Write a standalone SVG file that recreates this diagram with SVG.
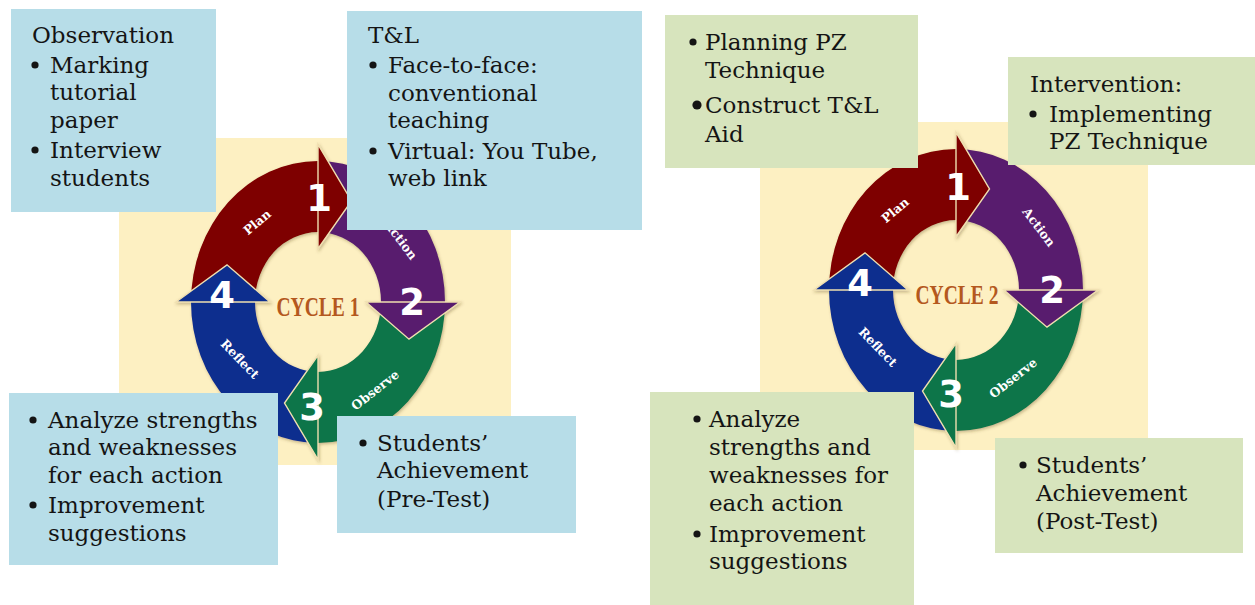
<svg xmlns="http://www.w3.org/2000/svg" width="1255" height="605" viewBox="0 0 1255 605">
  <style>
    .note { font-family: "DejaVu Serif", "Liberation Serif", serif; font-size: 23px; fill: #141414; }
    .dot { fill: #141414; }
    .blue { fill: #b7dde8; }
    .green { fill: #d7e4bd; }
    .cream { fill: #fdf0c2; }
    .step { font-family: "DejaVu Sans", "Liberation Sans", sans-serif; font-weight: bold; font-size: 37px; fill: #ffffff; text-anchor: middle; }
    .tag { font-family: "DejaVu Serif", serif; font-weight: bold; font-size: 12.5px; fill: #ffffff; text-anchor: middle; dominant-baseline: central; }
    .title { font-family: "Liberation Serif", serif; font-weight: bold; font-size: 28px; fill: #b4581e; text-anchor: middle; }
    .head { stroke: #f0dfb0; stroke-width: 1.4; stroke-linejoin: miter; }
  </style>
  <defs>
    <filter id="soft" x="-20%" y="-20%" width="140%" height="140%">
      <feDropShadow dx="1" dy="1.5" stdDeviation="1.5" flood-color="#5a4020" flood-opacity="0.35"/>
    </filter>
    <!-- one four-step ring, drawn around (0,0) -->
    <g id="ring">
      <path fill="#7e0000" d="M -127,0 A 127 127 0 0 1 0,-127 L 0,-63 A 63 63 0 0 0 -63,0 Z"/>
      <path fill="#581b6e" d="M 0,-127 A 127 127 0 0 1 127,0 L 63,0 A 63 63 0 0 0 0,-63 Z"/>
      <path fill="#0a7548" d="M 127,0 A 127 127 0 0 1 0,127 L 0,63 A 63 63 0 0 0 63,0 Z"/>
      <path fill="#0a2f8e" d="M 0,127 A 127 127 0 0 1 -127,0 L -63,0 A 63 63 0 0 0 0,63 Z"/>
      <path class="head" fill="#7e0000" vector-effect="non-scaling-stroke" d="M 0,-48 L 0,-142 L 33.5,-91 Z"/>
      <path class="head" fill="#581b6e" vector-effect="non-scaling-stroke" d="M 48,0 L 142,0 L 91,33.5 Z"/>
      <path class="head" fill="#0a7548" vector-effect="non-scaling-stroke" d="M 0,48 L 0,142 L -33.5,91 Z"/>
      <path class="head" fill="#0a2f8e" vector-effect="non-scaling-stroke" d="M -48,0 L -142,0 L -91,-33.5 Z"/>
    </g>
  </defs>

  <!-- backdrops -->
  <rect class="cream" x="119" y="138" width="392" height="327"/>
  <rect class="cream" x="760" y="122" width="388" height="328"/>

  <!-- cycle 1 -->
  <g id="cycle1">
    <g filter="url(#soft)">
      <use href="#ring" transform="translate(318,302) scale(1,1.11)"/>
    </g>
    <text class="tag" transform="translate(257,222) rotate(-40)">Plan</text>
    <text class="tag" transform="translate(401,240) rotate(53)">Action</text>
    <text class="tag" transform="translate(375,390) rotate(-38)">Observe</text>
    <text class="tag" transform="translate(240,359) rotate(46)">Reflect</text>
    <text class="step" x="319" y="211">1</text>
    <text class="step" x="412" y="315">2</text>
    <text class="step" x="312" y="420">3</text>
    <text class="step" x="222" y="308">4</text>
    <text class="title" x="318" y="316" textLength="83" lengthAdjust="spacingAndGlyphs">CYCLE 1</text>
  </g>

  <!-- cycle 2 -->
  <g id="cycle2">
    <g filter="url(#soft)">
      <use href="#ring" transform="translate(956,290) scale(1,1.11)"/>
    </g>
    <text class="tag" transform="translate(895,210) rotate(-40)">Plan</text>
    <text class="tag" transform="translate(1039,227) rotate(53)">Action</text>
    <text class="tag" transform="translate(1013,378) rotate(-38)">Observe</text>
    <text class="tag" transform="translate(878,347) rotate(46)">Reflect</text>
    <text class="step" x="958" y="200">1</text>
    <text class="step" x="1052" y="303">2</text>
    <text class="step" x="951" y="407">3</text>
    <text class="step" x="860" y="296">4</text>
    <text class="title" x="957" y="304" textLength="83" lengthAdjust="spacingAndGlyphs">CYCLE 2</text>
  </g>

  <!-- cycle 1 notes -->
  <g id="observation">
    <rect class="blue" x="11" y="9" width="205" height="203"/>
    <text class="note" x="32" y="43">Observation</text>
    <circle class="dot" cx="35" cy="65" r="3.6"/>
    <text class="note" x="50" y="73">Marking</text>
    <text class="note" x="50" y="100">tutorial</text>
    <text class="note" x="50" y="128">paper</text>
    <circle class="dot" cx="35" cy="150" r="3.6"/>
    <text class="note" x="50" y="158">Interview</text>
    <text class="note" x="50" y="186">students</text>
  </g>
  <g id="teaching">
    <rect class="blue" x="347" y="11" width="295" height="219"/>
    <text class="note" x="368" y="43">T&amp;L</text>
    <circle class="dot" cx="373" cy="65" r="3.6"/>
    <text class="note" x="388" y="73">Face-to-face:</text>
    <text class="note" x="388" y="101">conventional</text>
    <text class="note" x="388" y="128">teaching</text>
    <circle class="dot" cx="373" cy="151" r="3.6"/>
    <text class="note" x="388" y="159">Virtual: You Tube,</text>
    <text class="note" x="388" y="186">web link</text>
  </g>
  <g id="reflect1">
    <rect class="blue" x="9" y="393" width="269" height="172"/>
    <circle class="dot" cx="33" cy="420" r="3.6"/>
    <text class="note" x="48" y="428">Analyze strengths</text>
    <text class="note" x="48" y="455">and weaknesses</text>
    <text class="note" x="48" y="483">for each action</text>
    <circle class="dot" cx="33" cy="505" r="3.6"/>
    <text class="note" x="48" y="513">Improvement</text>
    <text class="note" x="48" y="541">suggestions</text>
  </g>
  <g id="pretest">
    <rect class="blue" x="337" y="416" width="239" height="117"/>
    <circle class="dot" cx="363" cy="443" r="3.6"/>
    <text class="note" x="377" y="451">Students’</text>
    <text class="note" x="377" y="478">Achievement</text>
    <text class="note" x="377" y="507">(Pre-Test)</text>
  </g>

  <!-- cycle 2 notes -->
  <g id="planning">
    <rect class="green" x="665" y="15" width="253" height="153"/>
    <circle class="dot" cx="693" cy="42" r="3.6"/>
    <text class="note" x="705" y="50">Planning PZ</text>
    <text class="note" x="705" y="78">Technique</text>
    <circle class="dot" cx="697" cy="105" r="4.6"/>
    <text class="note" x="705" y="113">Construct T&amp;L</text>
    <text class="note" x="705" y="142">Aid</text>
  </g>
  <g id="intervention">
    <rect class="green" x="1008" y="57" width="247" height="108"/>
    <text class="note" x="1030" y="92">Intervention:</text>
    <circle class="dot" cx="1033" cy="114" r="3.6"/>
    <text class="note" x="1049" y="122">Implementing</text>
    <text class="note" x="1049" y="149">PZ Technique</text>
  </g>
  <g id="reflect2">
    <rect class="green" x="650" y="392" width="264" height="213"/>
    <circle class="dot" cx="697" cy="419" r="3.6"/>
    <text class="note" x="709" y="427">Analyze</text>
    <text class="note" x="709" y="455">strengths and</text>
    <text class="note" x="709" y="483">weaknesses for</text>
    <text class="note" x="709" y="511">each action</text>
    <circle class="dot" cx="697" cy="534" r="3.6"/>
    <text class="note" x="709" y="542">Improvement</text>
    <text class="note" x="709" y="569">suggestions</text>
  </g>
  <g id="posttest">
    <rect class="green" x="995" y="438" width="248" height="115"/>
    <circle class="dot" cx="1023" cy="465" r="3.6"/>
    <text class="note" x="1036" y="473">Students’</text>
    <text class="note" x="1036" y="501">Achievement</text>
    <text class="note" x="1036" y="529">(Post-Test)</text>
  </g>
</svg>
